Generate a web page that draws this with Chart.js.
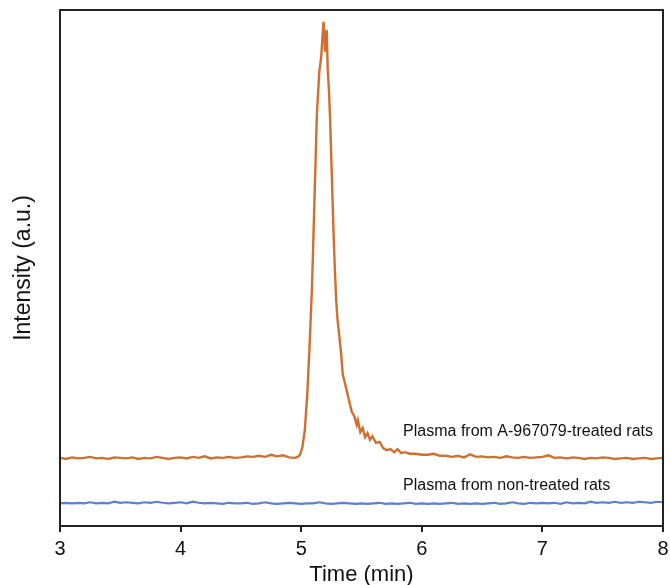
<!DOCTYPE html>
<html>
<head>
<meta charset="utf-8">
<script src="https://cdn.jsdelivr.net/npm/chart.js@4.4.1/dist/chart.umd.min.js"></script>
<style>
  body { margin: 0; background: #fff; }
  #wrap { width: 670px; height: 585px; }
</style>
</head>
<body>
<div id="wrap"><canvas id="line-chart" width="670" height="585"></canvas></div>
<script>
// retention time (min) and intensity (a.u., 0-100)
var treatedTimes = [
    3.00, 3.05, 3.10, 3.15, 3.20, 3.25, 3.30, 3.35, 3.40, 3.45,
    3.50, 3.55, 3.60, 3.65, 3.70, 3.75, 3.80, 3.85, 3.90, 3.95,
    4.00, 4.05, 4.10, 4.15, 4.20, 4.25, 4.30, 4.35, 4.40, 4.45,
    4.50, 4.55, 4.60, 4.65, 4.70, 4.75, 4.80, 4.85, 4.90, 4.95,
    4.97, 4.99, 5.01, 5.03, 5.05, 5.07, 5.09, 5.11, 5.13, 5.15,
    5.165, 5.175, 5.185, 5.19, 5.197, 5.205, 5.212, 5.22, 5.23, 5.24,
    5.25, 5.26, 5.27, 5.28, 5.29, 5.30, 5.315, 5.33, 5.345, 5.36,
    5.38, 5.40, 5.42, 5.44, 5.46, 5.47, 5.49, 5.51, 5.53, 5.55,
    5.57, 5.59, 5.62, 5.65, 5.68, 5.71, 5.74, 5.77, 5.80, 5.83,
    5.86, 5.90, 5.95, 6.00, 6.05, 6.10, 6.15, 6.20,
    6.25, 6.30, 6.35, 6.40, 6.45, 6.50, 6.55, 6.60, 6.65, 6.70,
    6.75, 6.80, 6.85, 6.90, 6.95, 7.00, 7.05, 7.10, 7.15, 7.20,
    7.25, 7.30, 7.35, 7.40, 7.45, 7.50, 7.55, 7.60, 7.65, 7.70,
    7.75, 7.80, 7.85, 7.90, 7.95, 8.00
];
var treatedValues = [
    13.2, 13.0, 13.3, 13.1, 13.2, 13.4, 13.1, 13.2, 13.0, 13.3,
    13.2, 13.1, 13.3, 13.0, 13.2, 13.1, 13.4, 13.2, 13.0, 13.2,
    13.3, 13.1, 13.4, 13.2, 13.5, 13.1, 13.3, 13.2, 13.4, 13.2,
    13.3, 13.5, 13.4, 13.6, 13.4, 13.8, 13.5, 13.7, 13.3, 13.2,
    13.4, 13.8, 15.3, 18.6, 25.4, 35.1, 46.7, 63.2, 79.7, 88.0,
    90.7, 94.2, 97.7, 96.1, 91.9, 95.5, 95.7, 88.4, 84.5, 78.7,
    70.9, 63.2, 55.4, 49.2, 43.8, 40.3, 37.0, 33.7, 29.3, 27.9,
    26.0, 24.0, 22.1, 21.3, 19.6, 20.5, 18.2, 19.0, 17.2, 18.0,
    16.7, 17.4, 16.1, 16.3, 15.1, 14.7, 14.9, 14.3, 14.9, 14.1,
    14.3, 14.0, 14.0, 13.8, 13.8, 14.0, 13.6, 13.6,
    13.4, 13.6, 13.3, 13.9, 13.4, 13.5, 13.3, 13.4, 13.2, 13.5,
    13.3, 13.2, 13.4, 13.2, 13.3, 13.4, 13.7, 13.2, 13.3, 13.1,
    13.3, 13.2, 13.0, 13.2, 13.1, 13.3, 13.2, 13.0, 13.1, 13.2,
    13.0, 13.1, 13.2, 13.0, 13.1, 13.2
];
var controlTimes = [
    3.00, 3.05, 3.10, 3.15, 3.20, 3.25, 3.30, 3.35, 3.40, 3.45,
    3.50, 3.55, 3.60, 3.65, 3.70, 3.75, 3.80, 3.85, 3.90, 3.95,
    4.00, 4.05, 4.10, 4.15, 4.20, 4.25, 4.30, 4.35, 4.40, 4.45,
    4.50, 4.55, 4.60, 4.65, 4.70, 4.75, 4.80, 4.85, 4.90, 4.95,
    5.00, 5.05, 5.10, 5.15, 5.20, 5.25, 5.30, 5.35, 5.40, 5.45,
    5.50, 5.55, 5.60, 5.65, 5.70, 5.75, 5.80, 5.85, 5.90, 5.95,
    6.00, 6.05, 6.10, 6.15, 6.20, 6.25, 6.30, 6.35, 6.40, 6.45,
    6.50, 6.55, 6.60, 6.65, 6.70, 6.75, 6.80, 6.85, 6.90, 6.95,
    7.00, 7.05, 7.10, 7.15, 7.20, 7.25, 7.30, 7.35, 7.40, 7.45,
    7.50, 7.55, 7.60, 7.65, 7.70, 7.75, 7.80, 7.85, 7.90, 7.95,
    8.00
];
var controlValues = [
    4.4, 4.5, 4.4, 4.5, 4.4, 4.6, 4.4, 4.5, 4.4, 4.7,
    4.5, 4.6, 4.5, 4.4, 4.6, 4.5, 4.7, 4.5, 4.4, 4.5,
    4.6, 4.4, 4.7, 4.5, 4.4, 4.5, 4.4, 4.3, 4.5, 4.4,
    4.4, 4.5, 4.3, 4.4, 4.6, 4.4, 4.3, 4.4, 4.5, 4.4,
    4.3, 4.4, 4.4, 4.6, 4.4, 4.3, 4.4, 4.5, 4.4, 4.3,
    4.4, 4.3, 4.4, 4.5, 4.3, 4.4, 4.3, 4.4, 4.5, 4.3,
    4.4, 4.3, 4.4, 4.3, 4.4, 4.5, 4.3, 4.4, 4.3, 4.4,
    4.3, 4.4, 4.5, 4.3, 4.4, 4.6, 4.4, 4.3, 4.5, 4.4,
    4.5, 4.4, 4.5, 4.3, 4.6, 4.4, 4.5, 4.4, 4.7, 4.5,
    4.6, 4.5, 4.7, 4.5, 4.6, 4.5, 4.7, 4.6, 4.5, 4.7,
    4.6
];
var seriesLabels = ['Plasma from A-967079-treated rats', 'Plasma from non-treated rats'];

function toPoints(xs, ys) {
    return xs.map(function (x, i) { return { x: x, y: ys[i] }; });
}

// box around the plot and the trace labels
var frame = {
    id: 'frame',
    afterDatasetsDraw: function (chart) {
        var ctx = chart.ctx, a = chart.chartArea;
        var xs = chart.scales.x, ys = chart.scales.y;
        ctx.save();
        ctx.strokeStyle = '#222';
        ctx.lineWidth = 2;
        ctx.strokeRect(a.left, a.top, a.right - a.left, a.bottom - a.top);
        ctx.fillStyle = '#111';
        ctx.font = '16px "Liberation Sans", Arial, sans-serif';
        ctx.textBaseline = 'middle';
        ctx.fillText(seriesLabels[0], xs.getPixelForValue(5.845), ys.getPixelForValue(18.2));
        ctx.fillText(seriesLabels[1], xs.getPixelForValue(5.845), ys.getPixelForValue(7.8));
        ctx.restore();
    }
};

var ctx = document.getElementById('line-chart');
var chart = new Chart(ctx, {
    type: 'line',
    data: {
        datasets: [{
            label: seriesLabels[0],
            data: toPoints(treatedTimes, treatedValues),
            borderColor: 'rgb(208, 112, 48)',
            borderWidth: 2.4,
            pointRadius: 0,
            tension: 0
        }, {
            label: seriesLabels[1],
            data: toPoints(controlTimes, controlValues),
            borderColor: 'rgb(92, 128, 204)',
            borderWidth: 2.2,
            pointRadius: 0,
            tension: 0
        }]
    },
    options: {
        responsive: false,
        animation: false,
        layout: { padding: { top: 10, right: 7, left: 0, bottom: 0 } },
        plugins: { legend: { display: false }, tooltip: { enabled: false } },
        scales: {
            x: {
                type: 'linear',
                min: 3,
                max: 8,
                afterFit: function (s) { s.height = 59; s.paddingLeft = 0; s.paddingRight = 0; },
                border: { display: false },
                grid: { drawOnChartArea: false, drawTicks: true, tickLength: 6, color: '#222', lineWidth: 2 },
                ticks: {
                    stepSize: 1,
                    color: '#111',
                    padding: 5,
                    maxRotation: 0,
                    font: { family: '"Liberation Sans", Arial, sans-serif', size: 20 }
                },
                title: {
                    display: true,
                    text: 'Time (min)',
                    color: '#111',
                    padding: { top: 0, bottom: -3 },
                    font: { family: '"Liberation Sans", Arial, sans-serif', size: 22 }
                }
            },
            y: {
                min: 0,
                max: 100,
                afterFit: function (s) { s.width = 60; },
                border: { display: false },
                grid: { display: false },
                ticks: { display: false },
                title: {
                    display: true,
                    text: 'Intensity (a.u.)',
                    color: '#111',
                    padding: { top: 10, bottom: 0 },
                    font: { family: '"Liberation Sans", Arial, sans-serif', size: 23 }
                }
            }
        }
    },
    plugins: [frame]
});
</script>
</body>
</html>
